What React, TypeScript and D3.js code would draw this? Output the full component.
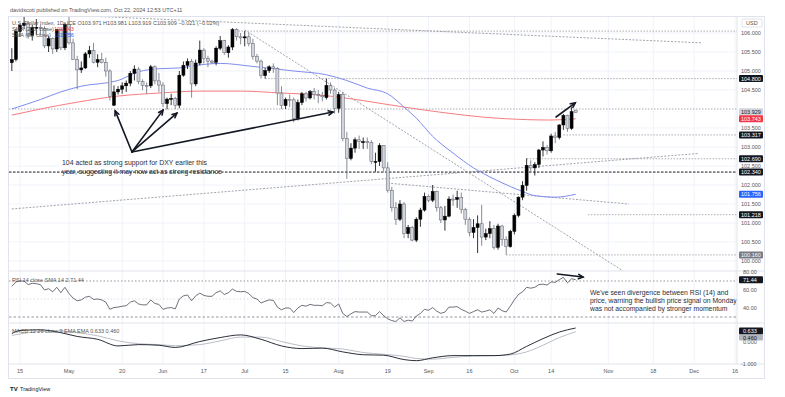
import React from 'react';
import * as d3 from 'd3';

// daily candles, one row per weekday starting 2024-04-11: open, high, low, close
const ohlc: [number, number, number, number][] = [
  [105.22, 105.6, 105.0, 105.3], [105.3, 106.11, 105.25, 106.04],
  [106.04, 106.25, 105.9, 106.2], [106.2, 106.52, 106.1, 106.26], [106.26, 106.32, 105.85, 105.94], [105.94, 106.22, 105.8, 106.15], [106.15, 106.37, 105.95, 106.15],
  [106.15, 106.22, 105.95, 106.12], [106.12, 106.18, 105.6, 105.66], [105.66, 105.92, 105.5, 105.85], [105.85, 105.88, 105.45, 105.58], [105.58, 106.1, 105.5, 106.09],
  [106.09, 106.12, 105.55, 105.61], [105.61, 106.28, 105.55, 106.22], [106.22, 106.49, 105.7, 105.74], [105.74, 105.85, 105.3, 105.3], [105.3, 105.4, 104.52, 105.03],
  [105.03, 105.25, 104.95, 105.08], [105.08, 105.5, 105.05, 105.45], [105.45, 105.66, 105.35, 105.54], [105.54, 105.74, 105.2, 105.23], [105.23, 105.44, 105.1, 105.3],
  [105.3, 105.48, 105.2, 105.22], [105.22, 105.35, 104.85, 105.0], [105.0, 105.05, 104.22, 104.33], [104.1, 104.62, 104.08, 104.45], [104.45, 104.6, 104.38, 104.52],
  [104.52, 104.7, 104.4, 104.61], [104.61, 104.75, 104.45, 104.68], [104.68, 105.0, 104.6, 104.94], [104.94, 105.15, 104.75, 105.05], [105.05, 105.1, 104.65, 104.72],
  [104.72, 104.78, 104.5, 104.62], [104.62, 104.7, 104.4, 104.61], [104.61, 105.16, 104.55, 105.11], [105.11, 105.15, 104.65, 104.74], [104.74, 104.95, 104.45, 104.63],
  [104.63, 104.7, 104.05, 104.14], [104.14, 104.3, 103.99, 104.26], [104.26, 104.4, 104.1, 104.28], [104.28, 104.32, 104.0, 104.1], [104.1, 105.0, 104.02, 104.89],
  [104.89, 105.25, 104.85, 105.15], [105.15, 105.33, 105.05, 105.25], [105.25, 105.32, 104.3, 104.66], [104.66, 105.3, 104.6, 105.21], [105.21, 105.8, 105.15, 105.55],
  [105.55, 105.6, 105.2, 105.33], [105.33, 105.4, 105.1, 105.26], [105.26, 105.3, 105.2, 105.23], [105.23, 105.65, 105.15, 105.6], [105.6, 105.92, 105.55, 105.8],
  [105.8, 105.82, 105.42, 105.48], [105.48, 105.68, 105.35, 105.63], [105.63, 106.13, 105.55, 106.09], [106.09, 106.12, 105.8, 105.9], [105.9, 106.0, 105.7, 105.87],
  [105.87, 106.05, 105.65, 105.9], [105.9, 106.0, 105.65, 105.73], [105.73, 105.85, 105.3, 105.38], [105.38, 105.45, 105.2, 105.26], [105.26, 105.3, 104.8, 104.88],
  [104.88, 105.08, 104.8, 105.01], [105.01, 105.15, 104.95, 105.11], [105.11, 105.2, 104.95, 105.06], [105.06, 105.1, 104.1, 104.42], [104.42, 104.6, 104.0, 104.09],
  [104.09, 104.3, 104.0, 104.25], [104.25, 104.38, 104.05, 104.24], [104.24, 104.3, 103.65, 103.75], [103.75, 104.25, 103.7, 104.17], [104.17, 104.45, 104.1, 104.4],
  [104.4, 104.45, 104.2, 104.29], [104.29, 104.5, 104.25, 104.46], [104.46, 104.55, 104.25, 104.38], [104.38, 104.5, 104.15, 104.36], [104.36, 104.45, 104.2, 104.32],
  [104.3, 104.8, 104.25, 104.62], [104.62, 104.7, 104.4, 104.5], [104.5, 104.55, 103.88, 104.02], [104.02, 104.45, 103.9, 104.38], [104.38, 104.45, 103.15, 103.22],
  [103.22, 103.4, 102.16, 102.7], [102.7, 103.1, 102.65, 102.97], [102.97, 103.25, 102.85, 103.19], [103.19, 103.3, 102.95, 103.14], [103.14, 103.25, 102.95, 103.14],
  [103.14, 103.25, 102.95, 103.12], [103.12, 103.18, 102.55, 102.62], [102.62, 102.85, 102.35, 102.62], [102.62, 103.1, 102.5, 103.04], [103.04, 103.05, 102.35, 102.45],
  [102.45, 102.6, 101.8, 101.86], [101.86, 101.95, 101.3, 101.4], [101.4, 101.55, 100.95, 101.1], [101.1, 101.6, 101.05, 101.5], [101.5, 101.55, 100.6, 100.72],
  [100.72, 100.95, 100.6, 100.88], [100.88, 100.92, 100.52, 100.55], [100.55, 101.15, 100.5, 101.1], [101.1, 101.4, 100.9, 101.34], [101.34, 101.8, 101.3, 101.7],
  [101.7, 101.75, 101.55, 101.6], [101.6, 102.0, 101.55, 101.83], [101.83, 101.85, 101.3, 101.4], [101.4, 101.45, 101.0, 101.08], [101.08, 101.45, 100.8, 101.18],
  [101.18, 101.7, 101.15, 101.63], [101.63, 101.75, 101.45, 101.62], [101.62, 101.85, 101.4, 101.67], [101.67, 101.8, 101.25, 101.35], [101.35, 101.4, 100.95, 101.1],
  [101.1, 101.15, 100.65, 100.75], [100.75, 101.1, 100.6, 100.88], [100.88, 101.2, 100.21, 100.98], [100.98, 101.48, 100.4, 100.63], [100.63, 100.85, 100.55, 100.72],
  [100.72, 101.05, 100.6, 100.85], [100.85, 100.95, 100.3, 100.36], [100.36, 100.98, 100.3, 100.92], [100.92, 100.95, 100.4, 100.56], [100.56, 100.65, 100.16, 100.38],
  [100.38, 100.82, 100.35, 100.78], [100.78, 101.25, 100.7, 101.2], [101.2, 101.7, 101.15, 101.68], [101.68, 102.1, 101.6, 101.99], [101.99, 102.7, 101.85, 102.52],
  [102.52, 102.65, 102.35, 102.45], [102.45, 102.6, 102.25, 102.54], [102.54, 102.95, 102.45, 102.92], [102.92, 103.15, 102.75, 102.99], [102.99, 103.05, 102.8, 102.9],
  [102.9, 103.35, 102.85, 103.29], [103.29, 103.4, 103.1, 103.25], [103.25, 103.6, 103.2, 103.58], [103.58, 103.87, 103.45, 103.83], [103.83, 103.85, 103.4, 103.49],
  [103.49, 104.05, 103.45, 103.93], [103.971, 103.981, 103.9, 103.909],
];

// RSI (14) per candle, same order as ohlc
const rsi: number[] = [
  64, 69, 70, 70, 66, 67.5, 67, 66, 60, 61.5, 58, 63,
  57, 63, 56, 51, 48, 49, 52, 53, 49.5, 50,
  49, 46.5, 38.5, 40.5, 41, 42, 42.5, 46.5, 48, 44.5,
  43.5, 43.5, 49, 45, 44, 38.5, 40, 40.5, 39, 50,
  53.5, 54.5, 48, 53.5, 56.5, 54, 53, 53, 57, 59,
  55, 57, 61, 58.5, 58, 58.5, 56, 51.5, 50, 45.5,
  47.5, 49, 48.5, 41, 38, 40, 40, 35, 40, 43,
  42, 44, 43, 43, 42.5, 46, 45.5, 41, 44.5, 34,
  30.5, 33.5, 36, 35.5, 35.5, 35.5, 31.5, 31.5, 36, 31.5,
  28, 26, 25, 29, 25, 26.5, 25.5, 31, 34, 38.5,
  37.5, 40.5, 36.5, 34, 35.5, 41, 41, 41.5, 38.5, 36.5,
  34, 36, 38, 35.5, 36.5, 38, 34, 40, 37, 35.5,
  42, 49, 55, 58, 63, 62, 63, 66, 66.5, 65.5,
  69, 68.5, 71.5, 74, 68, 72.5, 71.44,
];

const sma200: [string, number][] = [
  ['2024-04-11', 103.84], ['2024-04-22', 104.0], ['2024-05-03', 104.18], ['2024-05-17', 104.34],
  ['2024-05-31', 104.42], ['2024-06-14', 104.47], ['2024-06-28', 104.47], ['2024-07-12', 104.42],
  ['2024-07-26', 104.36], ['2024-08-09', 104.22], ['2024-08-23', 104.05], ['2024-09-06', 103.9],
  ['2024-09-20', 103.78], ['2024-10-04', 103.72], ['2024-10-14', 103.71], ['2024-10-22', 103.743],
];

const sma50: [string, number][] = [
  ['2024-04-11', 104.0], ['2024-04-22', 104.25], ['2024-04-29', 104.45], ['2024-05-06', 104.6],
  ['2024-05-17', 104.75], ['2024-05-24', 104.98], ['2024-05-31', 105.06], ['2024-06-07', 105.08],
  ['2024-06-14', 105.16], ['2024-06-21', 105.2], ['2024-07-03', 105.12], ['2024-07-17', 105.0],
  ['2024-07-29', 104.9], ['2024-08-05', 104.75], ['2024-08-12', 104.55], ['2024-08-19', 104.4],
  ['2024-08-23', 104.05], ['2024-08-28', 103.76], ['2024-09-03', 103.28], ['2024-09-10', 102.84],
  ['2024-09-17', 102.45], ['2024-09-24', 102.16], ['2024-09-30', 101.96], ['2024-10-03', 101.83],
  ['2024-10-08', 101.72], ['2024-10-15', 101.68], ['2024-10-22', 101.756],
];

const macd: [string, number][] = [
  ['2024-04-11', 0.38], ['2024-04-15', 0.52], ['2024-04-22', 0.55], ['2024-04-29', 0.42],
  ['2024-05-03', 0.25], ['2024-05-10', 0.12], ['2024-05-17', -0.18], ['2024-05-24', -0.12],
  ['2024-05-31', -0.15], ['2024-06-06', -0.25], ['2024-06-14', 0.02], ['2024-06-21', 0.2],
  ['2024-06-28', 0.32], ['2024-07-05', 0.12], ['2024-07-12', -0.18], ['2024-07-19', -0.3],
  ['2024-07-26', -0.28], ['2024-08-02', -0.45], ['2024-08-09', -0.58], ['2024-08-16', -0.6],
  ['2024-08-23', -0.8], ['2024-08-28', -0.85], ['2024-09-03', -0.72], ['2024-09-10', -0.62],
  ['2024-09-17', -0.62], ['2024-09-24', -0.62], ['2024-09-30', -0.55], ['2024-10-04', -0.2],
  ['2024-10-10', 0.15], ['2024-10-16', 0.45], ['2024-10-22', 0.633],
];

const signal: [string, number][] = [
  ['2024-04-11', 0.3], ['2024-04-15', 0.36], ['2024-04-22', 0.48], ['2024-04-29', 0.5],
  ['2024-05-03', 0.42], ['2024-05-10', 0.28], ['2024-05-17', 0.05], ['2024-05-24', -0.08],
  ['2024-05-31', -0.12], ['2024-06-06', -0.17], ['2024-06-14', -0.12], ['2024-06-21', 0.05],
  ['2024-06-28', 0.22], ['2024-07-05', 0.22], ['2024-07-12', 0.02], ['2024-07-19', -0.18],
  ['2024-07-26', -0.27], ['2024-08-02', -0.32], ['2024-08-09', -0.48], ['2024-08-16', -0.56],
  ['2024-08-23', -0.65], ['2024-08-28', -0.75], ['2024-09-03', -0.78], ['2024-09-10', -0.7],
  ['2024-09-17', -0.64], ['2024-09-24', -0.62], ['2024-09-30', -0.59], ['2024-10-04', -0.45],
  ['2024-10-10', -0.15], ['2024-10-16', 0.2], ['2024-10-22', 0.46],
];

const timeTicks: [string, string][] = [
  ['2024-04-15', '15'], ['2024-05-01', 'May'], ['2024-05-20', '20'], ['2024-06-03', 'Jun'],
  ['2024-06-17', '17'], ['2024-07-01', 'Jul'], ['2024-07-15', '15'], ['2024-08-01', 'Aug'],
  ['2024-08-19', '19'], ['2024-09-02', 'Sep'], ['2024-09-16', '16'], ['2024-10-01', 'Oct'],
  ['2024-10-14', '14'], ['2024-11-01', 'Nov'], ['2024-11-18', '18'], ['2024-12-02', 'Dec'],
  ['2024-12-16', '16'],
];

const priceTicks = [106, 105.5, 105, 104.5, 103.5, 103, 102.5, 102, 101.5, 101, 100.5, 100];

// value, text, background, text colour
const priceTags: [number, string, string, string][] = [
  [104.8, '104.800', '#131722', '#fff'],
  [103.929, '103.929', '#d1d4dc', '#131722'],
  [103.743, '103.743', '#f23645', '#fff'],
  [103.317, '103.317', '#131722', '#fff'],
  [102.69, '102.690', '#131722', '#fff'],
  [102.34, '102.340', '#131722', '#fff'],
  [101.756, '101.756', '#2962ff', '#fff'],
  [101.218, '101.218', '#131722', '#fff'],
  [100.16, '100.160', '#787b86', '#fff'],
];

const rsiTicks = [80, 60, 40];
const macdTicks = [0, -1];

// horizontal levels drawn by the author: price, start date (null = whole width), dark
const levels: [number, string | null, boolean][] = [
  [106.05, '2024-06-26', false],
  [104.8, '2024-07-08', false],
  [104.0, null, false],
  [103.317, '2024-10-17', false],
  [102.69, '2024-10-04', false],
  [102.34, null, true],
  [101.218, '2024-10-25', false],
  [100.16, '2024-09-27', false],
];

// trend lines: [date, price] -> [date, price]
const trends: [[string, number], [string, number]][] = [
  [['2024-04-16', 106.52], ['2024-12-04', 105.74]],
  [['2024-07-01', 106.08], ['2024-11-07', 99.71]],
  [['2024-04-11', 101.37], ['2024-12-03', 102.83]],
  [['2024-08-19', 102.05], ['2024-11-08', 101.5]],
];

// arrows in price space: [dayIndex, price] -> [dayIndex, price]
const arrows: [[number, number], [number, number]][] = [
  [[27.4, 102.87], [23.3, 103.95]],
  [[27.4, 102.87], [35, 103.97]],
  [[27.4, 102.87], [38.4, 103.89]],
  [[27.4, 102.87], [76.6, 103.92]],
  [[131.2, 103.79], [135.9, 104.16]],
];
const rsiArrow: [[number, number], [number, number]] = [[131.5, 77.8], [137.8, 74.4]];

const BASE = Date.UTC(2024, 3, 15);
function dayIdx(s: string): number {
  const days = Math.round((Date.parse(s + 'T00:00:00Z') - BASE) / 864e5);
  const w = Math.floor(days / 7);
  return w * 5 + Math.min(days - w * 7, 5);
}

const FONT = '"Liberation Sans", Arial, sans-serif';
const L = 9, R = 737, T = 17;
const mainB = 271, rsiB = 323, macdB = 364, axisB = 379;

const App: React.FC = () => {
  const x = d3.scaleLinear().domain([0, 175]).range([20, 735]);
  const y = d3.scaleLinear().domain([100, 106]).range([261, 33]);
  const yr = d3.scaleLinear().domain([20, 80]).range([326, 272]);
  const ym = d3.scaleLinear().domain([-1, 0.86]).range([364, 323]);
  const first = dayIdx('2024-04-11');

  const smaLine = d3
    .line<[string, number]>()
    .x((d) => x(dayIdx(d[0])))
    .y((d) => y(d[1]))
    .curve(d3.curveMonotoneX);
  const macdPath = d3
    .line<[string, number]>()
    .x((d) => x(dayIdx(d[0])))
    .y((d) => ym(d[1]))
    .curve(d3.curveMonotoneX);
  const rsiPath = d3
    .line<number>()
    .x((_, i) => x(first + i))
    .y((d) => yr(d));

  const arrow = (x1: number, y1: number, x2: number, y2: number, key: string) => {
    const a = Math.atan2(y2 - y1, x2 - x1);
    const s = 5;
    const p1 = [x2 - s * Math.cos(a - 0.45), y2 - s * Math.sin(a - 0.45)];
    const p2 = [x2 - s * Math.cos(a + 0.45), y2 - s * Math.sin(a + 0.45)];
    return (
      <g key={key} stroke="#131722" strokeWidth={1.6} strokeLinecap="round" fill="none">
        <line x1={x1} y1={y1} x2={x2} y2={y2} />
        <polyline points={`${p1[0]},${p1[1]} ${x2},${y2} ${p2[0]},${p2[1]}`} />
      </g>
    );
  };

  return (
    <svg width={785} height={397} style={{ display: 'block', position: 'absolute', left: 0, top: 0 }} fontFamily={FONT}>
      <rect x={0} y={0} width={785} height={397} fill="#fff" />
      <defs>
        <clipPath id="cMain"><rect x={L} y={T} width={R - L} height={mainB - T} /></clipPath>
        <clipPath id="cRsi"><rect x={L} y={mainB} width={R - L} height={rsiB - mainB} /></clipPath>
        <clipPath id="cMacd"><rect x={L} y={rsiB} width={R - L} height={macdB - rsiB} /></clipPath>
      </defs>

      <text x={10} y={12} fontSize={5.5} fill="#555">
        davidscott published on TradingView.com, Oct 22, 2024 12:53 UTC+11
      </text>

      {/* grid */}
      <g stroke="#f0f3fa" strokeWidth={1}>
        {timeTicks.map(([d]) => (
          <line key={d} x1={x(dayIdx(d))} x2={x(dayIdx(d))} y1={T} y2={macdB} />
        ))}
        {priceTicks.map((p) => (
          <line key={p} x1={L} x2={R} y1={y(p)} y2={y(p)} />
        ))}
      </g>

      {/* main pane */}
      <g clipPath="url(#cMain)">
        {levels.map(([p, d, dark]) => (
          <line
            key={p}
            x1={d ? x(dayIdx(d)) : L}
            x2={R}
            y1={y(p)}
            y2={y(p)}
            stroke={dark ? '#131722' : '#9598a1'}
            strokeWidth={dark ? 1 : 0.8}
            strokeDasharray={dark ? '2.5,1.5' : '1.5,1.5'}
          />
        ))}
        {trends.map(([a, b], i) => (
          <line
            key={i}
            x1={x(dayIdx(a[0]))}
            y1={y(a[1])}
            x2={x(dayIdx(b[0]))}
            y2={y(b[1])}
            stroke="#8a8d96"
            strokeWidth={0.8}
            strokeDasharray="2,1.5"
          />
        ))}
        <path d={smaLine(sma200) || ''} fill="none" stroke="#f77c80" strokeWidth={1} />
        <path d={smaLine(sma50) || ''} fill="none" stroke="#7e8cf2" strokeWidth={1} />
        {ohlc.map(([o, h, l, c], i) => {
          const cx = x(first + i);
          const up = c >= o;
          const top = y(Math.max(o, c));
          const bh = Math.max(1, y(Math.min(o, c)) - top);
          return (
            <g key={i}>
              <line x1={cx} x2={cx} y1={y(h)} y2={y(l)} stroke={up ? '#000' : '#6a6d78'} strokeWidth={0.8} />
              <rect
                x={cx - 1.5}
                y={top}
                width={3}
                height={bh}
                fill={up ? '#000' : '#d1d4dc'}
                stroke={up ? '#000' : '#5d606b'}
                strokeWidth={0.5}
              />
            </g>
          );
        })}
        {arrows.map(([a, b], i) => arrow(x(a[0]), y(a[1]), x(b[0]), y(b[1]), 'a' + i))}
      </g>

      <g fontSize={6.9} fill="#2a2e39">
        <text x={62} y={165}>104 acted as strong support for DXY earlier this</text>
        <text x={62} y={174}>year, suggesting it may now act as strong resistance</text>
      </g>

      {/* legend */}
      <g fontSize={5.5} fill="#555">
        <text x={12} y={25}>U.S. Dollar Index, 1D, ICE  O103.971  H103.981  L103.919  C103.909  −0.021 (−0.02%)</text>
        <text x={12} y={31}>SMA (200, close)</text>
        <text x={54} y={31} fill="#f23645">103.743</text>
        <text x={12} y={37}>SMA (50, close)</text>
        <text x={54} y={37} fill="#2962ff">101.756</text>
      </g>

      {/* RSI pane */}
      <g clipPath="url(#cRsi)">
        <line x1={L} x2={R} y1={yr(70)} y2={yr(70)} stroke="#787b86" strokeWidth={0.8} strokeDasharray="1.5,2" />
        <line x1={L} x2={R} y1={yr(50)} y2={yr(50)} stroke="#c9cbd1" strokeWidth={0.6} strokeDasharray="1.5,2" />
        <line x1={L} x2={R} y1={yr(30)} y2={yr(30)} stroke="#787b86" strokeWidth={0.8} strokeDasharray="2.5,2" />
        <path d={rsiPath(rsi) || ''} fill="none" stroke="#4a4d57" strokeWidth={0.8} />
        {arrow(x(rsiArrow[0][0]), yr(rsiArrow[0][1]), x(rsiArrow[1][0]), yr(rsiArrow[1][1]), 'ra')}
      </g>
      <text x={12} y={282} fontSize={5.5} fill="#555">RSI 14 close SMA 14 2  71.44</text>
      <g fontSize={6.8} fill="#2a2e39">
        <text x={590} y={295}>We've seen divergence between RSI (14) and</text>
        <text x={590} y={303}>price, warning the bullish price signal on Monday</text>
        <text x={590} y={311}>was not accompanied by stronger momentum</text>
      </g>

      {/* MACD pane */}
      <g clipPath="url(#cMacd)">
        <path d={macdPath(signal) || ''} fill="none" stroke="#b2b5be" strokeWidth={0.9} />
        <path d={macdPath(macd) || ''} fill="none" stroke="#131722" strokeWidth={0.9} />
      </g>
      <text x={12} y={333} fontSize={5.5} fill="#555">MACD 12 26 close 9 EMA EMA  0.633  0.460</text>

      {/* frames */}
      <g fill="none" stroke="#e0e3eb" strokeWidth={1}>
        <rect x={L - 0.5} y={T - 0.5} width={765 - L} height={axisB - T} />
        <line x1={R} x2={R} y1={T} y2={macdB} />
        <line x1={L} x2={765} y1={mainB} y2={mainB} />
        <line x1={L} x2={765} y1={rsiB} y2={rsiB} />
        <line x1={L} x2={765} y1={macdB} y2={macdB} />
      </g>

      {/* price axis */}
      <g fontSize={5.5} fill="#555">
        {priceTicks.map((p) => (
          <text key={p} x={741} y={y(p) + 2}>{p.toFixed(3)}</text>
        ))}
      </g>
      {priceTags.map(([p, t, bg, fg]) => (
        <g key={t}>
          <rect x={739} y={y(p) - 3.5} width={24} height={7} fill={bg} rx={1} />
          <text x={741} y={y(p) + 2} fontSize={5.5} fill={fg}>{t}</text>
        </g>
      ))}
      <rect x={742} y={19} width={20} height={8} fill="#fff" stroke="#e0e3eb" rx={1} />
      <text x={746} y={25} fontSize={5.5} fill="#555">USD</text>

      {/* RSI axis */}
      <g fontSize={5.5} fill="#555">
        {rsiTicks.map((v) => (
          <text key={v} x={743} y={yr(v) + 2}>{v.toFixed(2)}</text>
        ))}
      </g>
      <rect x={739} y={yr(71.44) - 3.5} width={24} height={7} fill="#131722" rx={1} />
      <text x={743} y={yr(71.44) + 2} fontSize={5.5} fill="#fff">71.44</text>

      {/* MACD axis */}
      <g fontSize={5.5} fill="#555">
        {macdTicks.map((v) => (
          <text key={v} x={v < 0 ? 741 : 743} y={ym(v) + 2}>{v.toFixed(3)}</text>
        ))}
      </g>
      <rect x={739} y={327.5} width={24} height={7} fill="#131722" rx={1} />
      <text x={743} y={333} fontSize={5.5} fill="#fff">0.633</text>
      <rect x={739} y={334.5} width={24} height={6} fill="#b2b5be" rx={1} />
      <text x={743} y={339.5} fontSize={5.5} fill="#131722">0.460</text>

      {/* time axis */}
      <g fontSize={5.5} fill="#555" textAnchor="middle">
        {timeTicks.map(([d, t]) => (
          <text key={d} x={x(dayIdx(d))} y={373}>{t}</text>
        ))}
      </g>

      <text x={10} y={391} fontSize={6} fill="#131722" fontWeight="bold">TV</text>
      <text x={20} y={391} fontSize={5.5} fill="#131722">TradingView</text>
    </svg>
  );
};

export default App;
